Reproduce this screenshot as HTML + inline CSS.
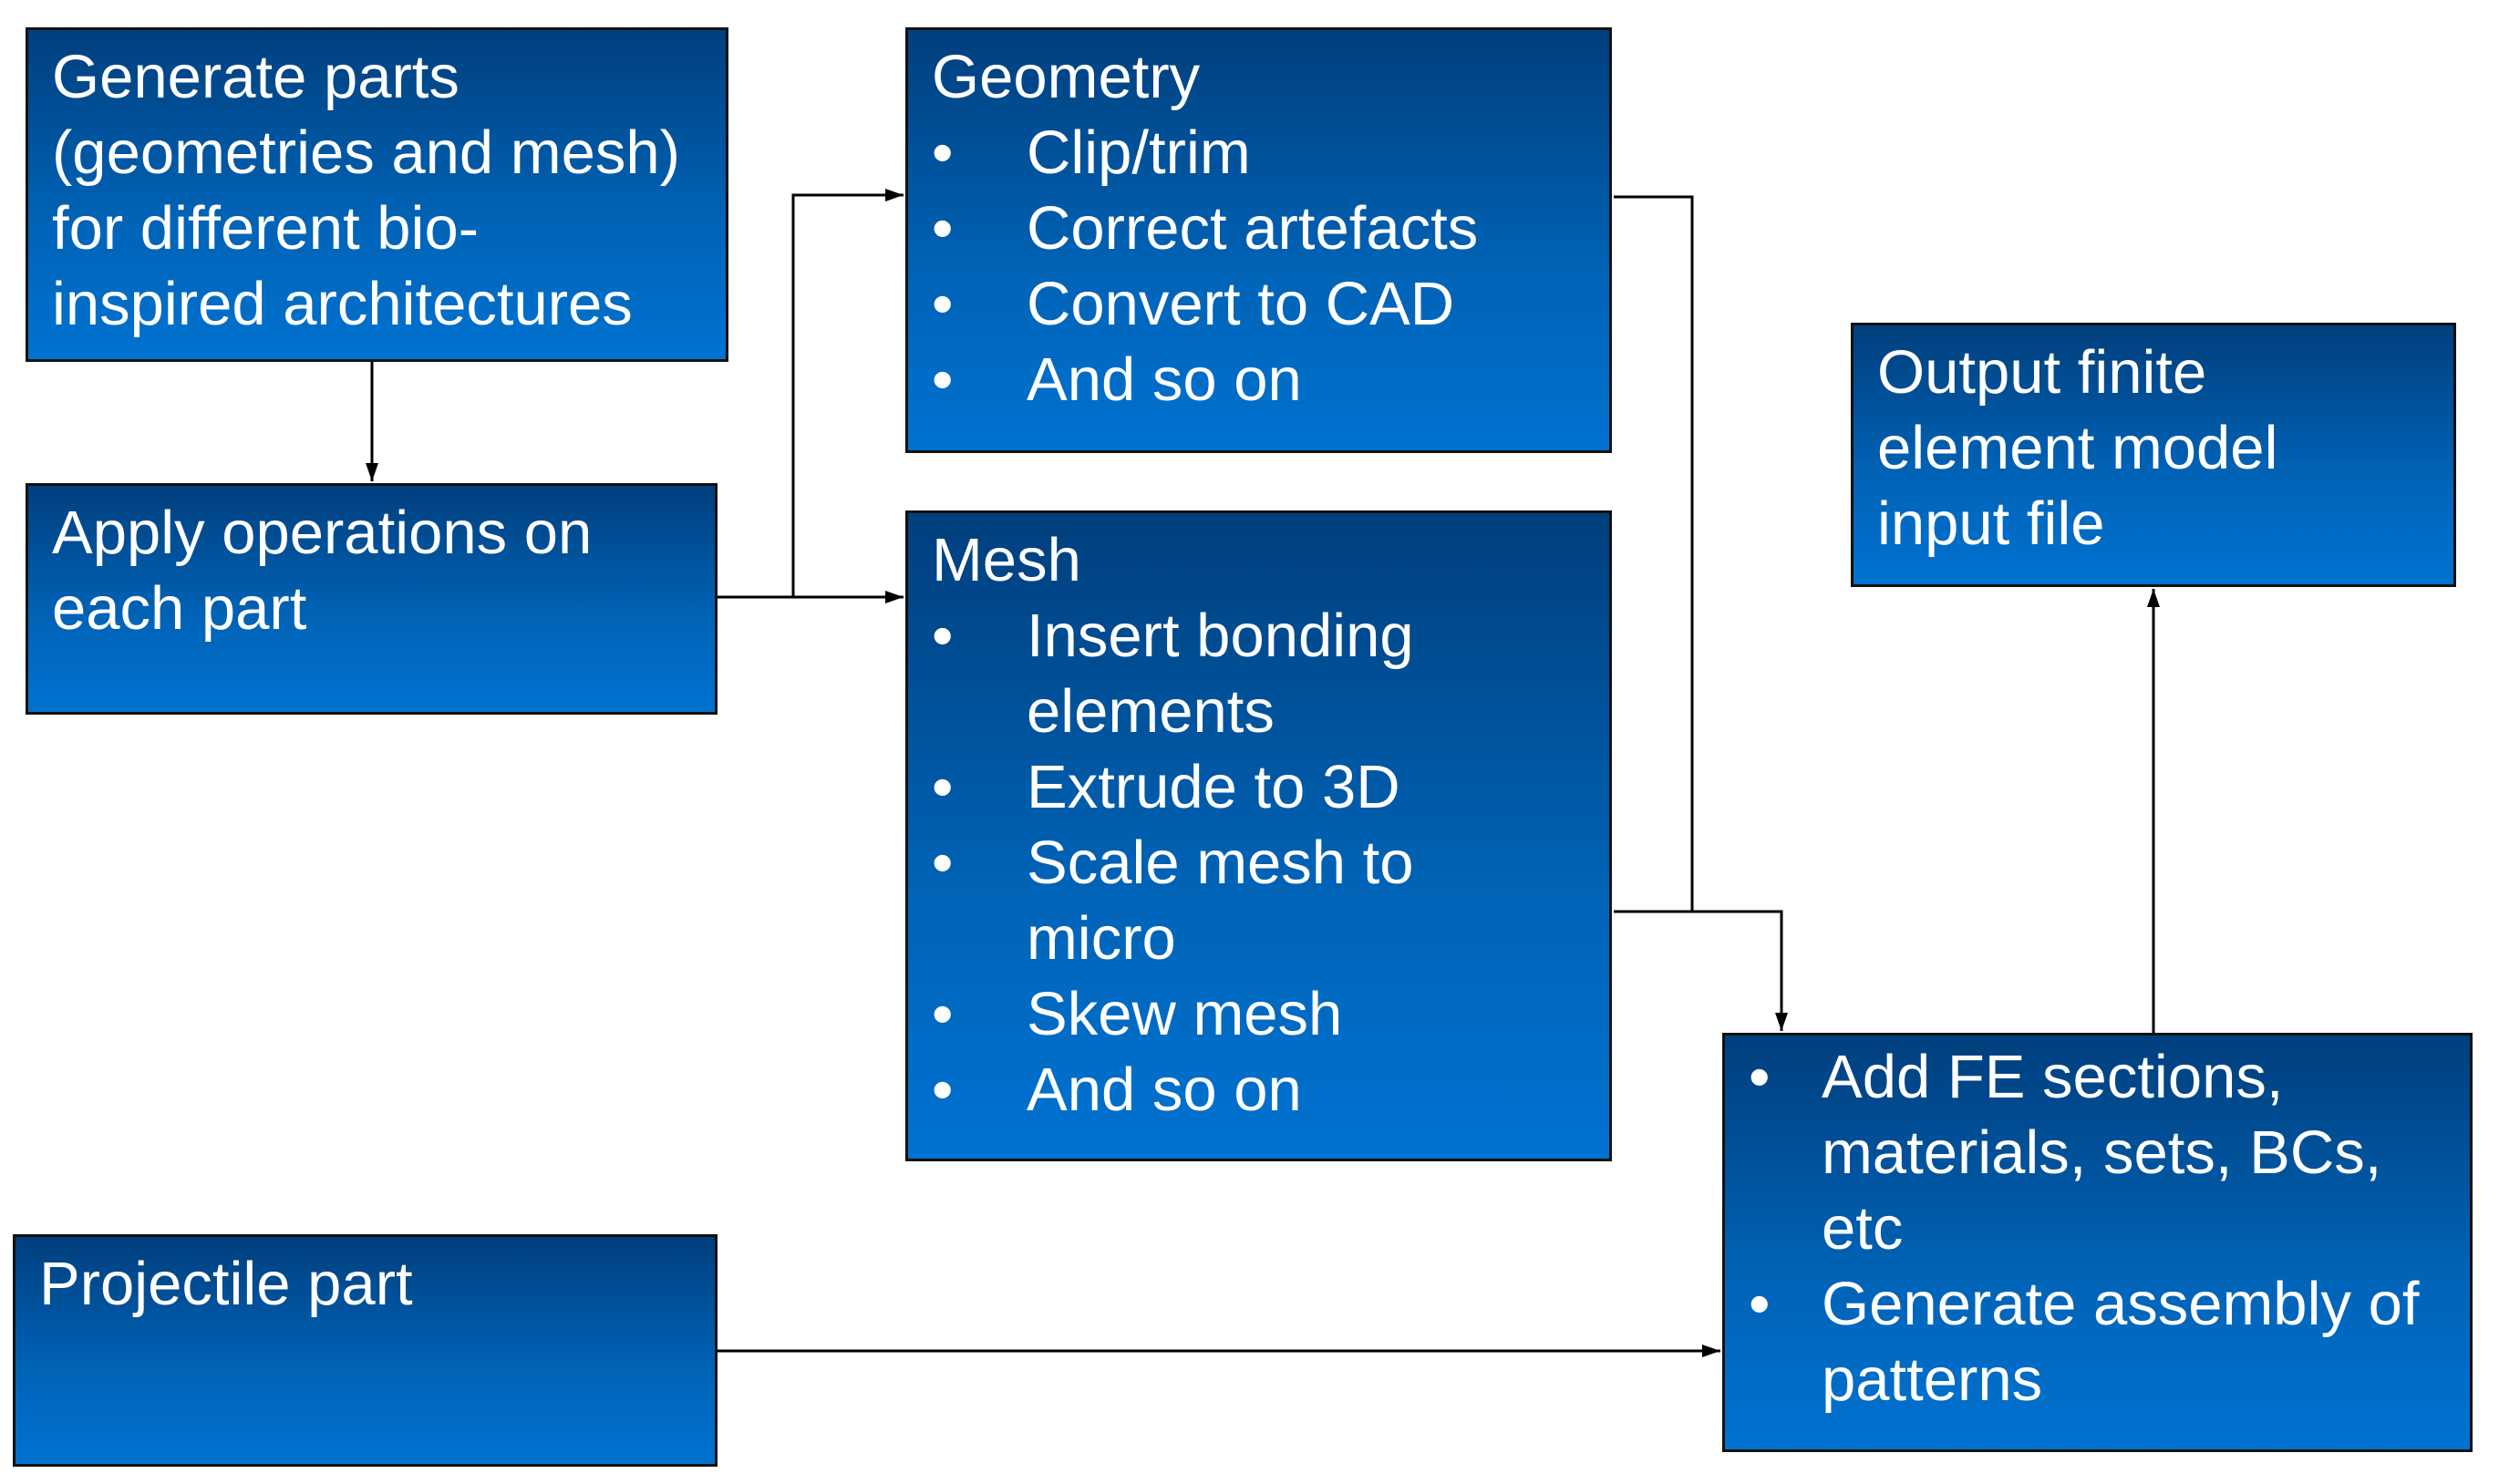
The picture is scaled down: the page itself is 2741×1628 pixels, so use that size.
<!DOCTYPE html>
<html><head><meta charset="utf-8"><style>
body{margin:0;width:2741px;height:1628px;background:#fff;position:relative;overflow:hidden;font-family:"Liberation Sans",Arial,sans-serif;}
.b{position:absolute;box-sizing:border-box;border:3px solid #111;background:linear-gradient(#003f7d,#0064b8 60%,#0072d0);color:#fff;font-size:67px;line-height:83px;padding:10px 0 0 26px;white-space:nowrap;}
.li{position:relative;padding-left:104px;}
.li:before{content:"•";position:absolute;left:0;top:0;}
.c{padding-left:104px;}
.fe .li,.fe .c{padding-left:80px;}
svg{position:absolute;left:0;top:0;}
</style></head><body>
<div class="b" style="left:28px;top:30px;width:771px;height:367px;">Generate parts<br>(geometries and mesh)<br>for different bio-<br>inspired architectures</div>
<div class="b" style="left:28px;top:530px;width:759px;height:254px;">Apply operations on<br>each part</div>
<div class="b" style="left:993px;top:30px;width:775px;height:467px;">Geometry<div class="li">Clip/trim</div><div class="li">Correct artefacts</div><div class="li">Convert to CAD</div><div class="li">And so on</div></div>
<div class="b" style="left:993px;top:560px;width:775px;height:714px;">Mesh<div class="li">Insert bonding</div><div class="c">elements</div><div class="li">Extrude to 3D</div><div class="li">Scale mesh to</div><div class="c">micro</div><div class="li">Skew mesh</div><div class="li">And so on</div></div>
<div class="b" style="left:2030px;top:354px;width:664px;height:290px;">Output finite<br>element model<br>input file</div>
<div class="b fe" style="left:1889px;top:1133px;width:823px;height:460px;padding-top:4px;"><div class="li">Add FE sections,</div><div class="c">materials, sets, BCs,</div><div class="c">etc</div><div class="li">Generate assembly of</div><div class="c">patterns</div></div>
<div class="b" style="left:14px;top:1354px;width:773px;height:255px;">Projectile part</div>
<svg width="2741" height="1628">
<defs><marker id="m" markerWidth="20" markerHeight="20" refX="20" refY="10" orient="auto" markerUnits="userSpaceOnUse" viewBox="0 0 20 20"><path d="M0,3 L20,10 L0,17z" fill="#000"/></marker></defs>
<g stroke="#000" stroke-width="3" fill="none">
<path d="M408 397 V528" marker-end="url(#m)"/>
<path d="M787 655 H991" marker-end="url(#m)"/>
<path d="M870 655 V214 H991" marker-end="url(#m)"/>
<path d="M1770 216 H1856 V1000"/>
<path d="M1770 1000 H1954 V1131" marker-end="url(#m)"/>
<path d="M2362 1133 V646" marker-end="url(#m)"/>
<path d="M787 1482 H1887" marker-end="url(#m)"/>
</g></svg>
</body></html>
